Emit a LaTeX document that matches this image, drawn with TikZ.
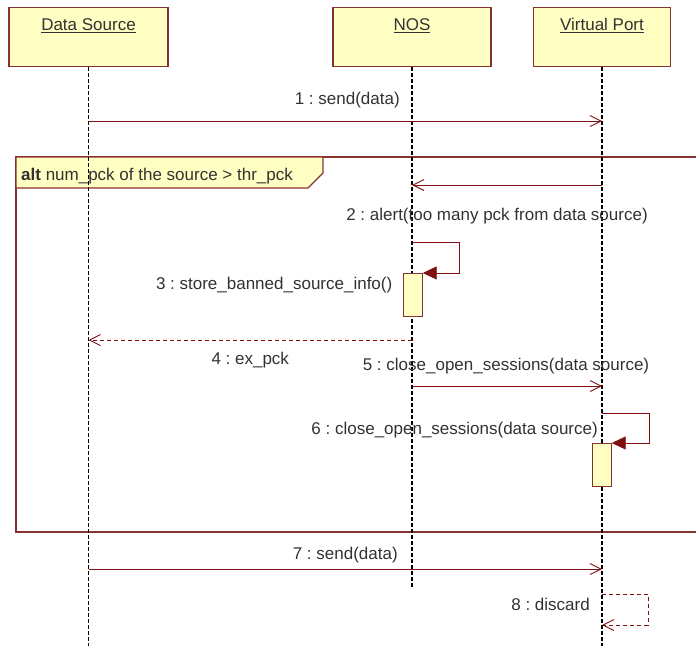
\documentclass[tikz,border=0pt]{standalone}
\usepackage{fontspec}
\setmainfont{Liberation Sans}
\usetikzlibrary{positioning, arrows.meta, calc}
\definecolor{umlfill}{RGB}{255,255,196}
\definecolor{umlline}{RGB}{135,50,50}
\definecolor{msgred}{RGB}{128,16,16}
\definecolor{txtgray}{RGB}{50,50,50}
\frenchspacing

\begin{document}
\begin{tikzpicture}[
    x=1pt, y=-1pt,
    every node/.style={font=\fontsize{17}{20}\selectfont, text=txtgray},
    obj/.style={rectangle, draw=umlline, line width=1.3pt, fill=umlfill, anchor=north, inner sep=0pt, text height=23pt, text depth=36pt, minimum width=#1},
    act/.style={rectangle, draw=umlline, line width=1.2pt, fill=umlfill, anchor=north west, inner sep=0pt, minimum width=19pt, minimum height=43pt},
    lbl/.style={inner sep=0pt},
    life/.style={black, line width=1.2pt, dash pattern=on 3.5pt off 2.5pt},
    msg/.style={msgred, line width=0.9pt, -{Straight Barb[length=11pt, width=11pt]}},
    ret/.style={msg, dash pattern=on 4pt off 3pt},
    selfmsg/.style={msgred, line width=0.9pt, -{Triangle[length=14pt, width=13pt]}},
    frame/.style={draw=umlline, line width=1.2pt},
]
\useasboundingbox (0,0) rectangle (696,646);

% ---------- message levels ----------
\coordinate (m1) at (0,121);
\coordinate (m2) at (0,185);
\coordinate (m3) at (0,242);
\coordinate (m4) at (0,340);
\coordinate (m5) at (0,386);
\coordinate (m6) at (0,413);
\coordinate (m7) at (0,569);
\coordinate (m8) at (0,594);
\coordinate (m8b) at (0,625);
\coordinate (nosend) at (0,588);
\coordinate (bot) at (0,646);

% ---------- objects (top row) ----------
\node[obj=159pt] (ds) at (88.5,7) {\underline{Data Source}};
\node[obj=158pt] (nos) at (412,7) {\underline{NOS}};
\node[obj=137pt] (vp) at (602,7) {\underline{Virtual Port}};

% ---------- alt fragment ----------
\draw[frame] (700,157) -- (16,157) -- (16,532) -- (700,532);
\filldraw[frame, fill=umlfill] (16,157) -- (323,157) -- (323,173) -- (308,188) -- (16,188) -- cycle;
\node[lbl, anchor=base west] (alt) at (21,180) {\textbf{alt} num\_pck of the source > thr\_pck};

% ---------- lifelines ----------
\draw[life] (ds.south) -- (ds.south |- bot);
\draw[life] (nos.south) -- (nos.south |- nosend);
\draw[life] (vp.south) -- (vp.south |- bot);

% ---------- activations ----------
\node[act] (a3) at ($(nos.south |- m3)+(-9.5,31)$) {};
\node[act] (a6) at ($(vp.south |- m6)+(-10.5,30)$) {};

% ---------- messages ----------
\draw[msg] (ds.south |- m1) -- node[lbl, above=13pt, xshift=2pt]{1 : send(data)} (vp.south |- m1);
\draw[msg] (vp.south |- m2) -- node[lbl, below=23pt, xshift=-10pt]{2 : alert(too many pck from data source)} (nos.south |- m2);
\draw[selfmsg] (nos.south |- m3) -- ++(47,0) |- (a3.north east);
\node[lbl, anchor=east] (l3) at ($(a3.north west)+(-10,12)$) {3 : store\_banned\_source\_info()};
\draw[ret] (nos.south |- m4) -- node[lbl, below=12pt]{4 : ex\_pck} (ds.south |- m4);
\draw[msg] (nos.south |- m5) -- node[lbl, above=12pt, xshift=-1pt]{5 : close\_open\_sessions(data source)} (vp.south |- m5);
\draw[selfmsg] (vp.south |- m6) -- ++(47,0) |- (a6.north east);
\node[lbl, anchor=east] (l6) at ($(vp.south |- m6)+(-4,17)$) {6 : close\_open\_sessions(data source)};
\draw[msg] (ds.south |- m7) -- node[lbl, above=6pt, xshift=0pt]{7 : send(data)} (vp.south |- m7);
\draw[ret] (vp.south |- m8) -- ++(46,0) |- (vp.south |- m8b);
\node[lbl, anchor=east] (l8) at ($(vp.south |- m8)+(-12,10)$) {8 : discard};

\end{tikzpicture}
\end{document}
